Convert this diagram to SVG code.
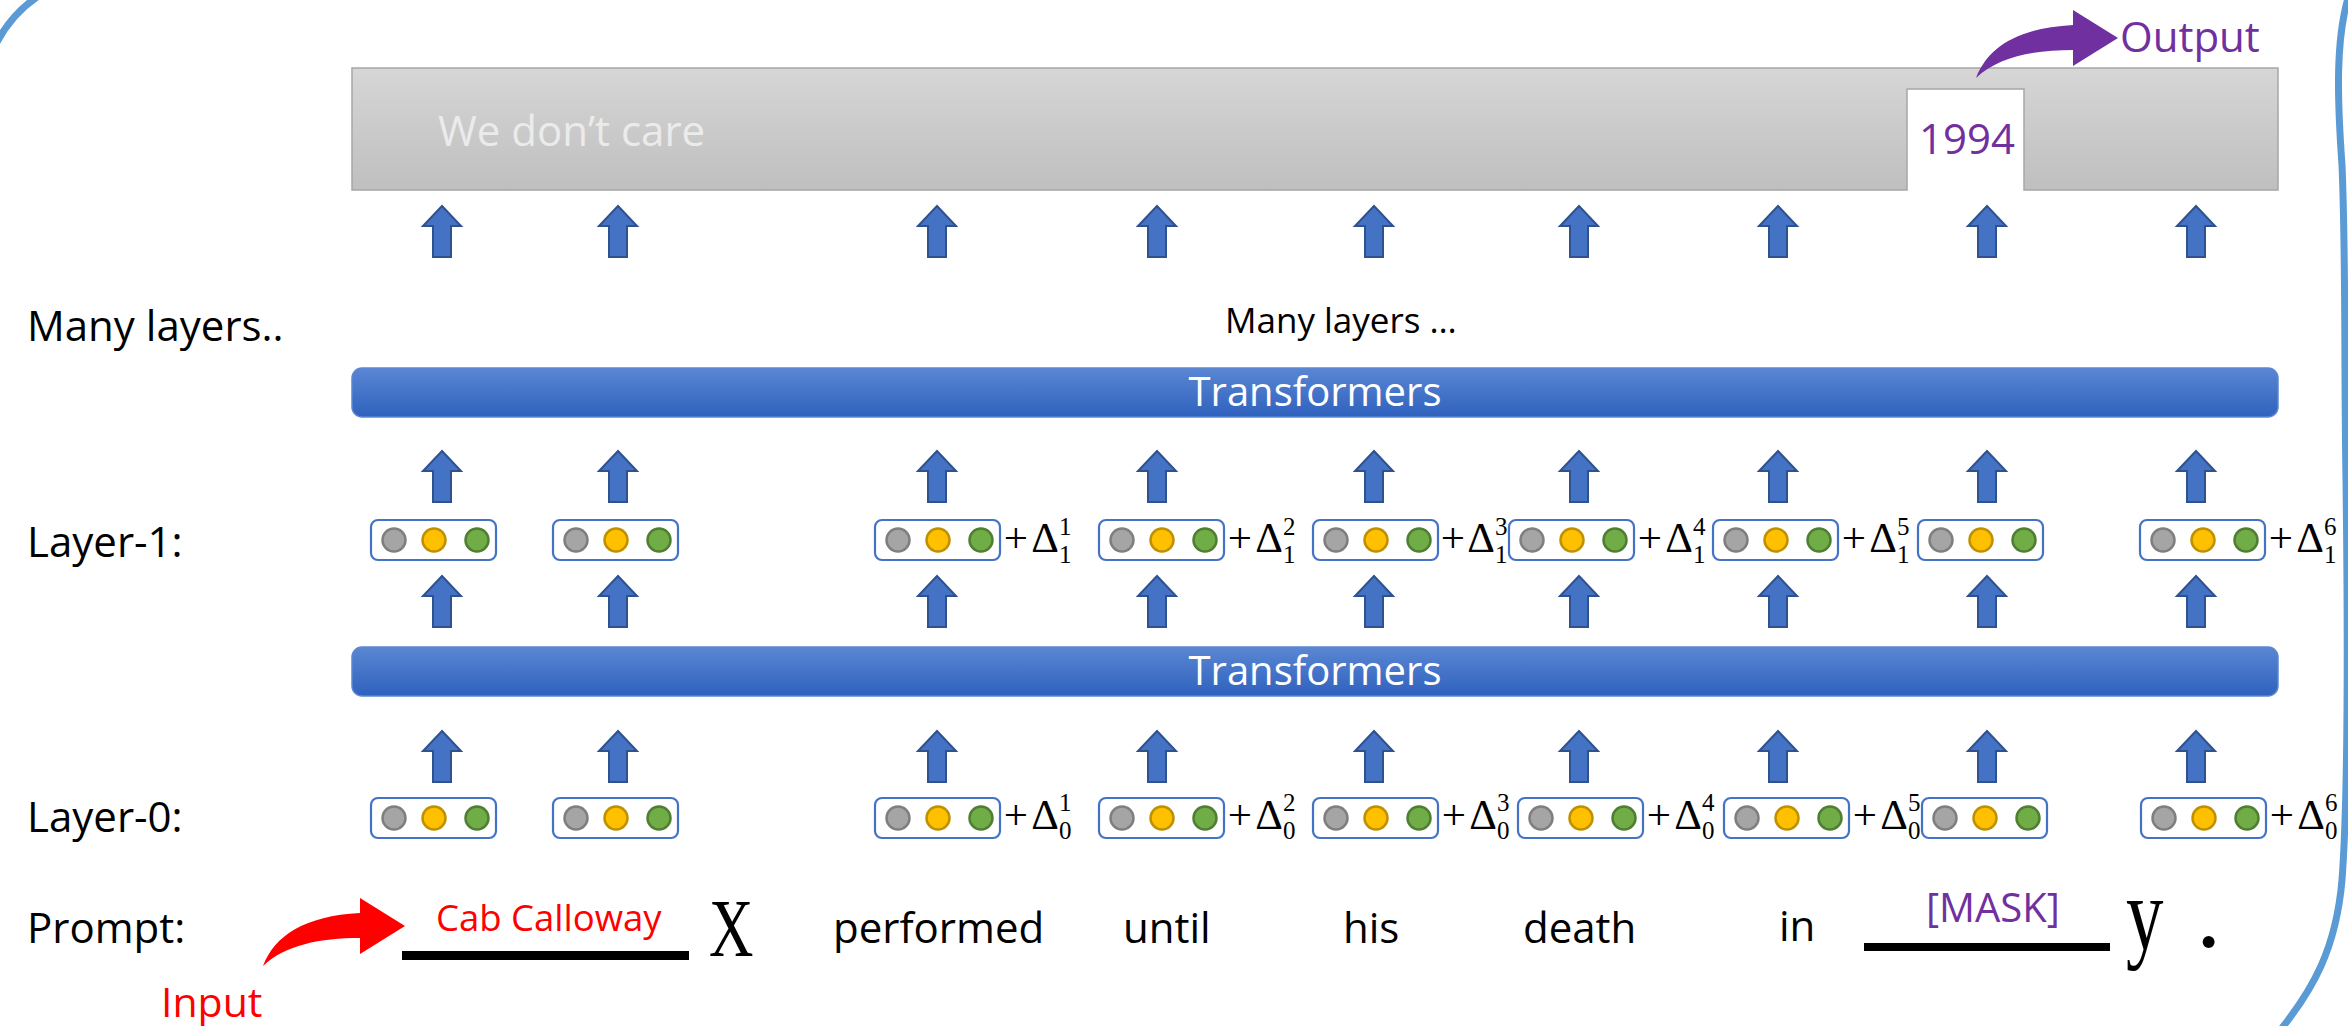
<svg xmlns="http://www.w3.org/2000/svg" xmlns:xlink="http://www.w3.org/1999/xlink" width="2348" height="1026" viewBox="0 0 2348 1026">
  <style>
    .sans{font-family:"Open Sans","Liberation Sans",sans-serif}
    .lbl{font-size:42px;fill:#000}
    .math{font-family:"Liberation Serif","DejaVu Serif",serif;fill:#000}
    .d{font-size:43px}
    .s{font-size:25px}
    .vbox{fill:#fff;stroke:#4472c4;stroke-width:2.2}
    .cg{fill:#a5a5a5;stroke:#7f7f7f;stroke-width:2.5}
    .cy{fill:#ffc000;stroke:#bf9000;stroke-width:2.5}
    .cn{fill:#70ad47;stroke:#507e32;stroke-width:2.5}
    .arr{fill:#4472c4;stroke:#2f528f;stroke-width:2;stroke-linejoin:miter}
    .bar{fill:url(#blueGrad);stroke:#5b86d2;stroke-width:1.5}
    .btxt{font-size:40px;fill:#fff;text-anchor:middle}
  </style>
  <defs>
    <linearGradient id="blueGrad" x1="0" y1="0" x2="0" y2="1">
      <stop offset="0" stop-color="#5a86d3"/>
      <stop offset="1" stop-color="#2f62be"/>
    </linearGradient>
    <linearGradient id="grayGrad" x1="0" y1="0" x2="0" y2="1">
      <stop offset="0" stop-color="#d6d6d6"/>
      <stop offset="1" stop-color="#bfbfbf"/>
    </linearGradient>
    <!-- block up-arrow, origin at the tip -->
    <path id="up" class="arr" d="M0 0 L19 20 L9 20 L9 51 L-9 51 L-9 20 L-19 20 Z"/>
    <!-- embedding vector: rounded box with three dots -->
    <g id="vec">
      <rect class="vbox" x="0" y="0" width="125" height="40" rx="7"/>
      <circle class="cg" cx="23" cy="20" r="11.5"/>
      <circle class="cy" cx="63" cy="20" r="11.5"/>
      <circle class="cn" cx="106" cy="20" r="11.5"/>
    </g>
    <!-- curved swoosh arrow, origin at its tail -->
    <path id="swoosh" d="M0 0 C12 -31 42 -50 97 -53 L97 -68 L142 -40 L97 -12 L97 -28 C57 -28 22 -21 0 0 Z"/>
  </defs>

  <rect width="2348" height="1026" fill="#fff"/>

  <!-- frame strokes -->
  <g id="frame" fill="none" stroke="#5b9bd5" stroke-width="7">
    <path d="M-3 42 Q12 14 37 -3"/>
    <path d="M2348 -2 C2336 40 2337 95 2342 165 C2346 260 2344 360 2346 480 C2348 640 2348 800 2342 880 C2336 950 2312 990 2282 1028"/>
  </g>

  <!-- output layer -->
  <g id="output-box">
    <path d="M352 68 H2278 V190 H2024 V89 H1907 V190 H352 Z" fill="url(#grayGrad)" stroke="#a6a6a6" stroke-width="1.5"/>
    <text class="sans" x="438" y="146" font-size="42" fill="#ebebeb">We don’t care</text>
    <text class="sans" x="1919" y="154" font-size="42" fill="#7030a0">1994</text>
  </g>
  <g id="output-label">
    <text class="sans" x="2120" y="52" font-size="42" fill="#7030a0">Output</text>
  </g>

  <!-- side labels -->
  <g id="side-labels" class="sans lbl">
    <text x="27" y="341">Many layers..</text>
    <text x="27" y="557">Layer-1:</text>
    <text x="27" y="832">Layer-0:</text>
    <text x="27" y="943">Prompt:</text>
  </g>
  <g id="many-layers">
    <text class="sans" x="1225" y="333" font-size="35">Many layers …</text>
  </g>

  <!-- transformer stacks -->
  <g id="transformers-upper">
    <rect class="bar" x="352" y="368" width="1926" height="49" rx="10"/>
    <text class="sans btxt" x="1315" y="406">Transformers</text>
  </g>
  <g id="transformers-lower">
    <rect class="bar" x="352" y="647" width="1926" height="49" rx="10"/>
    <text class="sans btxt" x="1315" y="685">Transformers</text>
  </g>

  <!-- layer-1 vectors -->
  <g id="l1-v1"><use xlink:href="#vec" x="371" y="520"/></g>
  <g id="l1-v2"><use xlink:href="#vec" x="553" y="520"/></g>
  <g id="l1-v3"><use xlink:href="#vec" x="875" y="520"/>
    <text class="math d" x="1016" y="552" text-anchor="middle">+</text><text class="math d" x="1045" y="552" text-anchor="middle">Δ</text>
    <text class="math s" x="1059" y="535">1</text><text class="math s" x="1059" y="563">1</text></g>
  <g id="l1-v4"><use xlink:href="#vec" x="1099" y="520"/>
    <text class="math d" x="1240" y="552" text-anchor="middle">+</text><text class="math d" x="1269" y="552" text-anchor="middle">Δ</text>
    <text class="math s" x="1283" y="535">2</text><text class="math s" x="1283" y="563">1</text></g>
  <g id="l1-v5"><use xlink:href="#vec" x="1313" y="520"/>
    <text class="math d" x="1453" y="552" text-anchor="middle">+</text><text class="math d" x="1481" y="552" text-anchor="middle">Δ</text>
    <text class="math s" x="1495" y="535">3</text><text class="math s" x="1495" y="563">1</text></g>
  <g id="l1-v6"><use xlink:href="#vec" x="1509" y="520"/>
    <text class="math d" x="1650" y="552" text-anchor="middle">+</text><text class="math d" x="1679" y="552" text-anchor="middle">Δ</text>
    <text class="math s" x="1693" y="535">4</text><text class="math s" x="1693" y="563">1</text></g>
  <g id="l1-v7"><use xlink:href="#vec" x="1713" y="520"/>
    <text class="math d" x="1854" y="552" text-anchor="middle">+</text><text class="math d" x="1883" y="552" text-anchor="middle">Δ</text>
    <text class="math s" x="1897" y="535">5</text><text class="math s" x="1897" y="563">1</text></g>
  <g id="l1-v8"><use xlink:href="#vec" x="1918" y="520"/></g>
  <g id="l1-v9"><use xlink:href="#vec" x="2140" y="520"/>
    <text class="math d" x="2281" y="552" text-anchor="middle">+</text><text class="math d" x="2310" y="552" text-anchor="middle">Δ</text>
    <text class="math s" x="2324" y="535">6</text><text class="math s" x="2324" y="563">1</text></g>

  <!-- layer-0 vectors -->
  <g id="l0-v1"><use xlink:href="#vec" x="371" y="798"/></g>
  <g id="l0-v2"><use xlink:href="#vec" x="553" y="798"/></g>
  <g id="l0-v3"><use xlink:href="#vec" x="875" y="798"/>
    <text class="math d" x="1016" y="829" text-anchor="middle">+</text><text class="math d" x="1045" y="829" text-anchor="middle">Δ</text>
    <text class="math s" x="1059" y="811">1</text><text class="math s" x="1059" y="839">0</text></g>
  <g id="l0-v4"><use xlink:href="#vec" x="1099" y="798"/>
    <text class="math d" x="1240" y="829" text-anchor="middle">+</text><text class="math d" x="1269" y="829" text-anchor="middle">Δ</text>
    <text class="math s" x="1283" y="811">2</text><text class="math s" x="1283" y="839">0</text></g>
  <g id="l0-v5"><use xlink:href="#vec" x="1313" y="798"/>
    <text class="math d" x="1454" y="829" text-anchor="middle">+</text><text class="math d" x="1483" y="829" text-anchor="middle">Δ</text>
    <text class="math s" x="1497" y="811">3</text><text class="math s" x="1497" y="839">0</text></g>
  <g id="l0-v6"><use xlink:href="#vec" x="1518" y="798"/>
    <text class="math d" x="1659" y="829" text-anchor="middle">+</text><text class="math d" x="1688" y="829" text-anchor="middle">Δ</text>
    <text class="math s" x="1702" y="811">4</text><text class="math s" x="1702" y="839">0</text></g>
  <g id="l0-v7"><use xlink:href="#vec" x="1724" y="798"/>
    <text class="math d" x="1865" y="829" text-anchor="middle">+</text><text class="math d" x="1894" y="829" text-anchor="middle">Δ</text>
    <text class="math s" x="1908" y="811">5</text><text class="math s" x="1908" y="839">0</text></g>
  <g id="l0-v8"><use xlink:href="#vec" x="1922" y="798"/></g>
  <g id="l0-v9"><use xlink:href="#vec" x="2141" y="798"/>
    <text class="math d" x="2282" y="829" text-anchor="middle">+</text><text class="math d" x="2311" y="829" text-anchor="middle">Δ</text>
    <text class="math s" x="2325" y="811">6</text><text class="math s" x="2325" y="839">0</text></g>

  <!-- prompt tokens -->
  <g id="prompt">
    <text class="sans" x="436" y="931" font-size="36.5" fill="#ff0000">Cab Calloway</text>
    <rect x="402" y="951" width="287" height="9" fill="#000"/>
    <text class="math" transform="translate(709 956) scale(0.75 1)" font-size="82">X</text>
    <text class="sans lbl" x="833" y="943">performed</text>
    <text class="sans lbl" x="1123" y="943">until</text>
    <text class="sans lbl" x="1343" y="943">his</text>
    <text class="sans lbl" x="1523" y="943">death</text>
    <text class="sans lbl" x="1779" y="941">in</text>
    <text class="sans" x="1926" y="922" font-size="40" fill="#7030a0">[MASK]</text>
    <rect x="1864" y="943" width="246" height="8" fill="#000"/>
    <text class="math" transform="translate(2126 949) scale(0.72 1)" font-size="104">y</text>
    <text class="math" x="2196" y="947" font-size="101">.</text>
  </g>
  <g id="input-label">
    <text class="sans" x="161" y="1017" font-size="41" fill="#ff0000">Input</text>
  </g>

  <!-- connectors -->
  <g id="connectors">
    <!-- into the output layer -->
    <use xlink:href="#up" x="442" y="206"/>
    <use xlink:href="#up" x="618" y="206"/>
    <use xlink:href="#up" x="937" y="206"/>
    <use xlink:href="#up" x="1157" y="206"/>
    <use xlink:href="#up" x="1374" y="206"/>
    <use xlink:href="#up" x="1579" y="206"/>
    <use xlink:href="#up" x="1778" y="206"/>
    <use xlink:href="#up" x="1987" y="206"/>
    <use xlink:href="#up" x="2196" y="206"/>
    <!-- layer-1 into upper transformers -->
    <use xlink:href="#up" x="442" y="451"/>
    <use xlink:href="#up" x="618" y="451"/>
    <use xlink:href="#up" x="937" y="451"/>
    <use xlink:href="#up" x="1157" y="451"/>
    <use xlink:href="#up" x="1374" y="451"/>
    <use xlink:href="#up" x="1579" y="451"/>
    <use xlink:href="#up" x="1778" y="451"/>
    <use xlink:href="#up" x="1987" y="451"/>
    <use xlink:href="#up" x="2196" y="451"/>
    <!-- lower transformers into layer-1 -->
    <use xlink:href="#up" x="442" y="576"/>
    <use xlink:href="#up" x="618" y="576"/>
    <use xlink:href="#up" x="937" y="576"/>
    <use xlink:href="#up" x="1157" y="576"/>
    <use xlink:href="#up" x="1374" y="576"/>
    <use xlink:href="#up" x="1579" y="576"/>
    <use xlink:href="#up" x="1778" y="576"/>
    <use xlink:href="#up" x="1987" y="576"/>
    <use xlink:href="#up" x="2196" y="576"/>
    <!-- layer-0 into lower transformers -->
    <use xlink:href="#up" x="442" y="731"/>
    <use xlink:href="#up" x="618" y="731"/>
    <use xlink:href="#up" x="937" y="731"/>
    <use xlink:href="#up" x="1157" y="731"/>
    <use xlink:href="#up" x="1374" y="731"/>
    <use xlink:href="#up" x="1579" y="731"/>
    <use xlink:href="#up" x="1778" y="731"/>
    <use xlink:href="#up" x="1987" y="731"/>
    <use xlink:href="#up" x="2196" y="731"/>
    <!-- output and input swooshes -->
    <use xlink:href="#swoosh" x="1976" y="78" fill="#7030a0"/>
    <use xlink:href="#swoosh" x="263" y="966" fill="#ff0000"/>
  </g>
</svg>
